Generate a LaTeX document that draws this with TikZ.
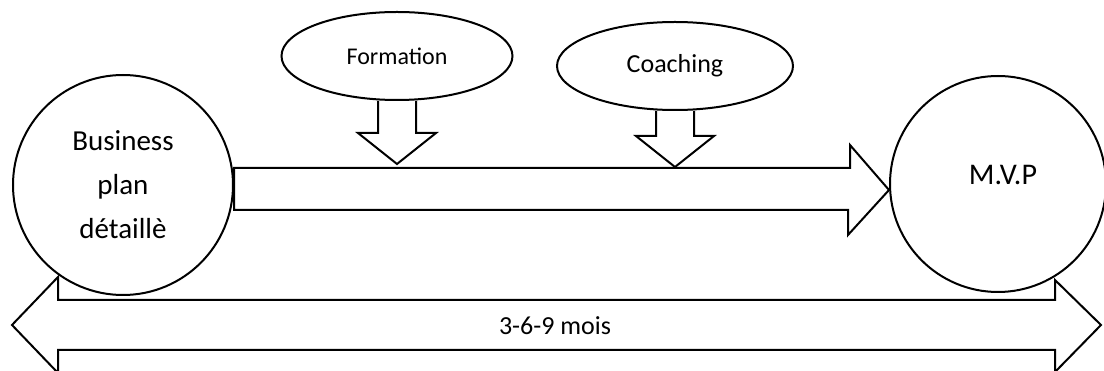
\documentclass[tikz,border=0pt]{standalone}
\usepackage{fontspec}
\setmainfont{Carlito}
\usetikzlibrary{shapes.geometric,calc}

\begin{document}
\begin{tikzpicture}[x=1pt, y=-1pt, line width=2pt, bulle/.style={circle,draw,inner sep=0pt,align=center}, ovale/.style={ellipse,draw,minimum height=88pt}]
	\useasboundingbox (0,0) rectangle (1104,371);
	
	\node (bp) at (123,185) [bulle,minimum size=220pt,font=\fontsize{29}{44}\selectfont]{Business\\plan\\détaillè};
	\node (mvp) at (998,184) [bulle,minimum size=216pt]{};
	\node (mvptxt) at (1003,175) [font=\fontsize{30}{36}\selectfont]{M.V.P};
	
	\node (form) at (397,56) [ovale,minimum width=231pt,font=\fontsize{24}{29}\selectfont]{Formation};
	\node (coach) at (675,66) [ovale,minimum width=236pt,font=\fontsize{26}{31}\selectfont]{Coaching};
	
	\draw ($(bp.east)+(0,-17)$) -- ++(616,0) -- ++(0,-23) -- ($(mvp.west)+(0,6)$) -- ++(-41,45) -- ++(0,-25) -- ($(bp.east)+(0,25)$) -- cycle;
	
	\foreach \n/\l in {form/32, coach/25}{
		\draw ($(\n.south)+(-19,0)$) -- ++(0,\l) -- ++(-20,0) -- ++(39,31) -- ++(39,-31) -- ++(-20,0) -- ++(0,-\l);
	}
	
	\draw (bp.west |- 0,325) -- ++(46,-48) -- ++(0,23) -- ++(997,0) -- ++(0,-20) -- ++(46,45) -- ++(-46,47) -- ++(0,-22) -- ++(-997,0) -- ++(0,23) -- cycle;
	\node (duree) at (555,326) [font=\fontsize{26}{31}\selectfont]{3-6-9 mois};
\end{tikzpicture}
\end{document}
